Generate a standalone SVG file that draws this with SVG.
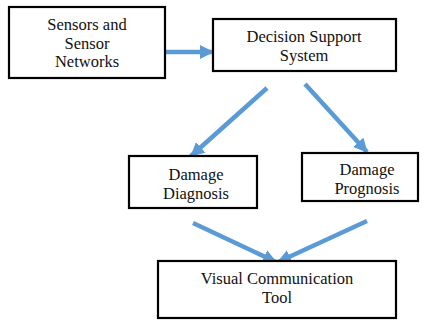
<svg xmlns="http://www.w3.org/2000/svg" width="425" height="320" viewBox="0 0 425 320">
<style>
.box{fill:#fff;stroke:#000;stroke-width:2.2}
.c{stroke:#5b9bd5;stroke-width:4.5;fill:none;marker-end:url(#ah)}
</style>
<defs>
<marker id="ah" markerUnits="userSpaceOnUse" viewBox="0 0 14 14" refX="13" refY="7" markerWidth="14" markerHeight="14" orient="auto">
<path d="M0,0 L14,7 L0,14 Z" fill="#5b9bd5"/>
</marker>
</defs>
<rect width="425" height="320" fill="#fff"/>
<g id="connectors">
<line class="c" x1="165" y1="52" x2="213" y2="52"/>
<line class="c" x1="267" y1="88" x2="191" y2="156"/>
<line class="c" x1="305" y1="84" x2="367" y2="152"/>
<line class="c" x1="193" y1="223" x2="276" y2="262"/>
<line class="c" x1="367" y1="221" x2="278" y2="262"/>
</g>
<g font-family="Liberation Serif, 'Times New Roman', serif" font-size="16.5" fill="#111" text-anchor="middle">
<g id="sensors">
<rect class="box" x="9" y="7" width="156" height="71"/>
<text x="87" y="30">Sensors and</text>
<text x="87" y="48.5">Sensor</text>
<text x="87" y="67">Networks</text>
</g>
<g id="dss">
<rect class="box" x="213" y="19" width="183" height="52"/>
<text x="304" y="42">Decision Support</text>
<text x="304" y="61">System</text>
</g>
<g id="diagnosis">
<rect class="box" x="129" y="156" width="128" height="52"/>
<text x="196" y="180">Damage</text>
<text x="196" y="199">Diagnosis</text>
</g>
<g id="prognosis">
<rect class="box" x="302" y="153" width="116" height="48"/>
<text x="367" y="175">Damage</text>
<text x="367" y="194">Prognosis</text>
</g>
<g id="visual">
<rect class="box" x="158" y="261" width="238" height="57"/>
<text x="277" y="284">Visual Communication</text>
<text x="277" y="303">Tool</text>
</g>
</g>
</svg>
